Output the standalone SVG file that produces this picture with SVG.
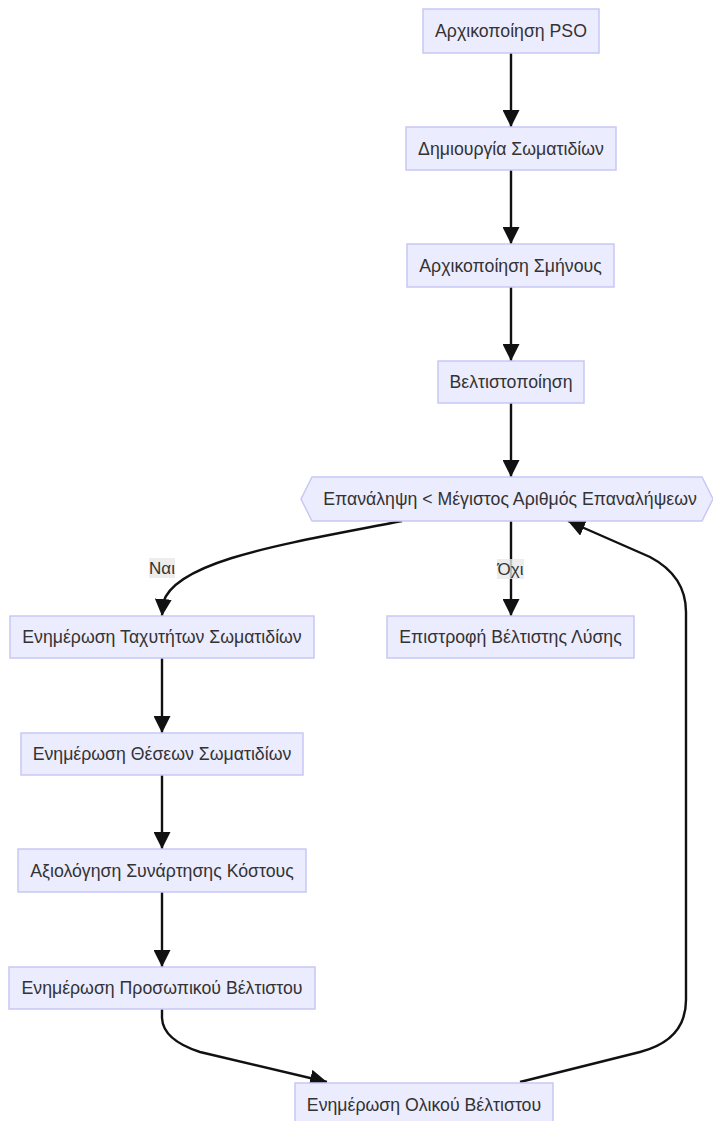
<svg xmlns="http://www.w3.org/2000/svg" width="713" height="1121" viewBox="0 0 713 1121">
<style>
  .node rect, .node polygon { fill: #ECECFF; stroke: #C8C8F6; stroke-width: 1.5; }
  .node text { font-family: "Liberation Sans", Arial, sans-serif; font-size: 17.7px; fill: #333; text-anchor: middle; dominant-baseline: central; }
  .edge { fill: none; stroke: #111; stroke-width: 2.4; marker-end: url(#arrow); }
  .lbl rect { fill: #E8E8E8; fill-opacity: 0.8; }
  .lbl text { font-family: "Liberation Sans", Arial, sans-serif; font-size: 17px; fill: #333; text-anchor: middle; dominant-baseline: central; }
</style>
<defs>
  <marker id="arrow" viewBox="0 0 10 10" refX="10" refY="5" markerUnits="userSpaceOnUse" markerWidth="17" markerHeight="17" orient="auto">
    <path d="M0,0 L10,5 L0,10 z" fill="#111"/>
  </marker>
</defs>
<rect width="713" height="1121" fill="#fff"/>
<g id="connectors">
  <path class="edge" d="M511,53 L511,127"/>
  <path class="edge" d="M511,170 L511,244"/>
  <path class="edge" d="M511,287 L511,361"/>
  <path class="edge" d="M511,403 L511,477"/>
  <path class="edge" d="M402,521 C290,543 175,560 163,603 L162,616"/>
  <path class="edge" d="M511,521 L511,616"/>
  <path class="edge" d="M162,658 L162,733"/>
  <path class="edge" d="M162,775 L162,849"/>
  <path class="edge" d="M162,892 L162,967"/>
  <path class="edge" d="M162,1009 L162,1018 Q163,1040 200,1052 L327,1082"/>
  <path class="edge" d="M520,1082 L640,1052 Q686,1040 686,1000 L686,612 Q686,576 650,557 L568,521"/>
  <g class="lbl">
    <rect x="149" y="558" width="26" height="20"/>
    <text x="162" y="568">Ναι</text>
  </g>
  <g class="lbl">
    <rect x="497" y="559" width="27" height="20"/>
    <text x="510.5" y="569">Όχι</text>
  </g>
</g>
<g id="n1" class="node"><rect x="423" y="9" width="176" height="44"/><text x="511" y="31">Αρχικοποίηση PSO</text></g>
<g id="n2" class="node"><rect x="406" y="127" width="210" height="43"/><text x="511" y="148.5">Δημιουργία Σωματιδίων</text></g>
<g id="n3" class="node"><rect x="407" y="244" width="207" height="43"/><text x="510.5" y="265.5">Αρχικοποίηση Σμήνους</text></g>
<g id="n4" class="node"><rect x="438" y="361" width="146" height="42"/><text x="511" y="382">Βελτιστοποίηση</text></g>
<g id="n5" class="node"><polygon points="312,477 702,477 713,499 702,521 312,521 301,499"/><text x="510" y="499">Επανάληψη &lt; Μέγιστος Αριθμός Επαναλήψεων</text></g>
<g id="n6" class="node"><rect x="10" y="616" width="304" height="42"/><text x="162" y="637">Ενημέρωση Ταχυτήτων Σωματιδίων</text></g>
<g id="n7" class="node"><rect x="387" y="616" width="247" height="42"/><text x="510.5" y="637">Επιστροφή Βέλτιστης Λύσης</text></g>
<g id="n8" class="node"><rect x="21" y="733" width="282" height="42"/><text x="162" y="754">Ενημέρωση Θέσεων Σωματιδίων</text></g>
<g id="n9" class="node"><rect x="18" y="849" width="288" height="43"/><text x="162" y="870.5">Αξιολόγηση Συνάρτησης Κόστους</text></g>
<g id="n10" class="node"><rect x="9" y="967" width="306" height="42"/><text x="162" y="988">Ενημέρωση Προσωπικού Βέλτιστου</text></g>
<g id="n11" class="node"><rect x="295" y="1083" width="258" height="43"/><text x="424" y="1104.5">Ενημέρωση Ολικού Βέλτιστου</text></g>
</svg>
